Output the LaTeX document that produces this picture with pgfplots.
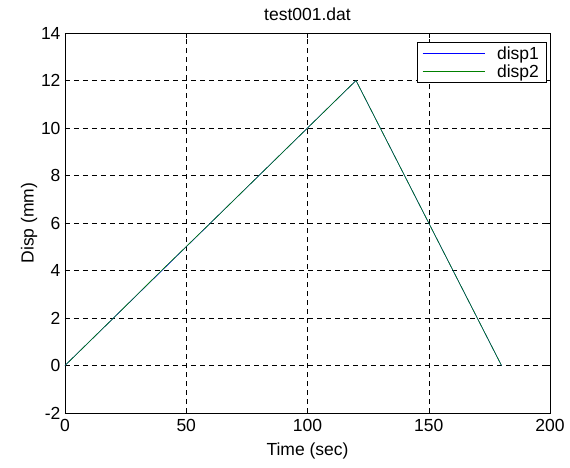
\documentclass[border=0pt]{standalone}
\usepackage{pgfplots}
\pgfplotsset{compat=1.18}
\usepackage{fontspec}
\setmainfont{Liberation Sans}
\definecolor{mgreen}{rgb}{0,0.5,0}
\begin{document}
\begin{tikzpicture}[x=1pt,y=1pt]
\useasboundingbox (-65pt,-54pt) rectangle (505pt,413pt);
\begin{axis}[scale only axis,width=485pt,height=380pt,
  xmin=0,xmax=200,ymin=-2,ymax=14,
  xtick={0,50,100,150,200},ytick={-2,0,2,4,6,8,10,12,14},
  grid=major,grid style={black,dash pattern=on 5pt off 4pt,line width=0.5pt},
  axis line style={black,line width=0.6pt},
  tick align=inside,major tick length=5pt,
  tick style={black,line width=0.5pt},
  xtick pos=both,ytick pos=both,
  font=\fontsize{17.5}{20}\selectfont,
  /pgf/number format/assume math mode=true,
  xticklabel style={yshift=-3pt},
  yticklabel style={xshift=-1pt},
  xlabel={Time (sec)},ylabel={Disp (mm)},
  title={test001.dat},
  title style={yshift=3pt},
  xlabel style={yshift=-4pt},ylabel style={yshift=-3pt},
  legend style={at={(rel axis cs:0.992,0.976)},anchor=north east,draw=black,fill=white,line width=0.5pt,
    font=\fontsize{17.5}{20}\selectfont,row sep=0pt,inner xsep=5pt,inner ysep=2pt,
    nodes={inner sep=2pt},/tikz/every odd column/.append style={column sep=10pt}},
  legend cell align=left,
  legend image code/.code={\path (-8pt,0pt) -- (0pt,0pt);\draw[#1,line width=0.8pt] (0pt,0pt) -- (54pt,0pt);},
]
\addplot[blue,line width=0.6pt] coordinates {(0,0) (20,2) (40,4) (60,6) (80,8) (100,10) (120,12) (135,9) (150,6) (165,3) (180,0)};
\addlegendentry{disp1}
\addplot[mgreen,line width=0.6pt] coordinates {(0,0) (20,2) (40,4.02) (60,6) (80,8) (100,10) (120,12) (135,9) (150,6) (165,3) (180,0)};
\addlegendentry{disp2}
\end{axis}
\end{tikzpicture}
\end{document}
